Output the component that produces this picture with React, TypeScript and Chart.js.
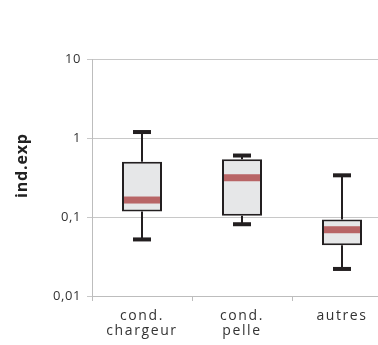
import React, { useEffect, useRef } from "react";
import { Chart, registerables } from "chart.js";

Chart.register(...registerables);

const categories: string[][] = [["cond.", "chargeur"], ["cond.", "pelle"], ["autres"]];
const whiskerLow: number[] = [0.052, 0.081, 0.022];
const q1: number[] = [0.117, 0.104, 0.044];
const median: number[] = [0.164, 0.314, 0.069];
const q3: number[] = [0.5, 0.537, 0.093];
const whiskerHigh: number[] = [1.19, 0.6, 0.337];
const yTicks: number[] = [0.01, 0.1, 1, 10];
const yTickLabels: string[] = ["0,01", "0,1", "1", "10"];
const yTitle = "ind.exp";

const INK = "#231f20";
const FONT = "Open Sans";

function patchSpacing(scale: any, spacing: string) {
  if (!scale || scale._spacingPatched) return;
  const orig = scale.drawLabels.bind(scale);
  scale.drawLabels = (area: any) => {
    const ctx = scale.ctx;
    const prev = ctx.letterSpacing;
    ctx.letterSpacing = spacing;
    orig(area);
    ctx.letterSpacing = prev || "0px";
  };
  scale._spacingPatched = true;
}

const boxPlugin = {
  id: "boxExtras",
  beforeDraw(chart: any) {
    patchSpacing(chart.scales.x, "1.6px");
    patchSpacing(chart.scales.y, "0.6px");
  },
  afterDatasetsDraw(chart: any) {
    const ctx = chart.ctx;
    const meta = chart.getDatasetMeta(0);
    const y = chart.scales.y;
    ctx.save();
    meta.data.forEach((bar: any, i: number) => {
      const props = bar.getProps(["x", "width"], true);
      const cx = props.x;
      const w = props.width;
      const pLow = y.getPixelForValue(whiskerLow[i]);
      const pQ1 = y.getPixelForValue(q1[i]);
      const pQ3 = y.getPixelForValue(q3[i]);
      const pHigh = y.getPixelForValue(whiskerHigh[i]);
      const pMed = y.getPixelForValue(median[i]);
      ctx.strokeStyle = INK;
      ctx.lineWidth = 2;
      ctx.beginPath();
      ctx.moveTo(cx, pQ1);
      ctx.lineTo(cx, pLow);
      ctx.moveTo(cx, pQ3);
      ctx.lineTo(cx, pHigh);
      ctx.stroke();
      ctx.fillStyle = INK;
      const capW = 18;
      ctx.fillRect(cx - capW / 2, pLow - 2, capW, 4);
      ctx.fillRect(cx - capW / 2, pHigh - 2, capW, 4);
      ctx.fillStyle = "#b86566";
      ctx.fillRect(cx - w / 2 + 2, pMed - 3.5, w - 4, 7);
    });
    ctx.restore();
  },
  afterDraw(chart: any) {
    const ctx = chart.ctx;
    const area = chart.chartArea;
    ctx.save();
    ctx.translate(22, area.top + (area.bottom - area.top) * 0.45);
    ctx.rotate(-Math.PI / 2);
    ctx.font = `bold 16px "${FONT}"`;
    ctx.letterSpacing = "0.8px";
    ctx.fillStyle = "#222";
    ctx.textAlign = "center";
    ctx.textBaseline = "middle";
    ctx.fillText(yTitle, 0, 0);
    ctx.restore();
  },
};

export default function App() {
  const ref = useRef<HTMLCanvasElement>(null);
  useEffect(() => {
    if (!ref.current) return;
    const chart = new Chart(ref.current, {
      type: "bar",
      data: {
        labels: categories,
        datasets: [
          {
            data: q1.map((v, i) => [v, q3[i]]) as any,
            backgroundColor: "#e6e7e8",
            borderColor: INK,
            borderWidth: 2,
            borderSkipped: false,
            barPercentage: 0.4,
            categoryPercentage: 1,
          },
        ],
      },
      options: {
        animation: false,
        responsive: false,
        devicePixelRatio: 1,
        plugins: { legend: { display: false }, tooltip: { enabled: false } },
        layout: { padding: { top: 59, left: 0, right: 0, bottom: 0 } },
        scales: {
          x: {
            offset: true,
            grid: { offset: true, drawOnChartArea: false, drawTicks: true, tickLength: 5, color: "#bdbdbd" },
            border: { display: true, color: "#bdbdbd", width: 1 },
            ticks: { color: "#333", font: { family: FONT, size: 14, lineHeight: 1.08 }, padding: 7, maxRotation: 0 },
            afterFit(scale: any) {
              scale.height = 49;
            },
          },
          y: {
            type: "logarithmic",
            min: 0.01,
            max: 10,
            afterBuildTicks(scale: any) {
              scale.ticks = yTicks.map((v) => ({ value: v, major: true }));
            },
            grid: { color: "#c8c8c8", tickLength: 5, lineWidth: 1 },
            border: { display: true, color: "#bdbdbd", width: 1 },
            ticks: {
              color: "#333",
              font: { family: FONT, size: 13 },
              padding: 6,
              callback: (v: any) => {
                const idx = yTicks.findIndex((t) => Math.abs(t - v) < 1e-9);
                return idx >= 0 ? yTickLabels[idx] : "";
              },
            },
            title: { display: false },
            afterFit(scale: any) {
              scale.width = 92;
            },
          },
        },
      },
      plugins: [boxPlugin],
    });
    return () => chart.destroy();
  }, []);
  return (
    <div style={{ position: "fixed", left: 0, top: 0, width: 378, height: 345, overflow: "hidden", background: "#fff" }}>
      <canvas ref={ref} width={392} height={345} style={{ display: "block", width: 392, height: 345 }} />
    </div>
  );
}
